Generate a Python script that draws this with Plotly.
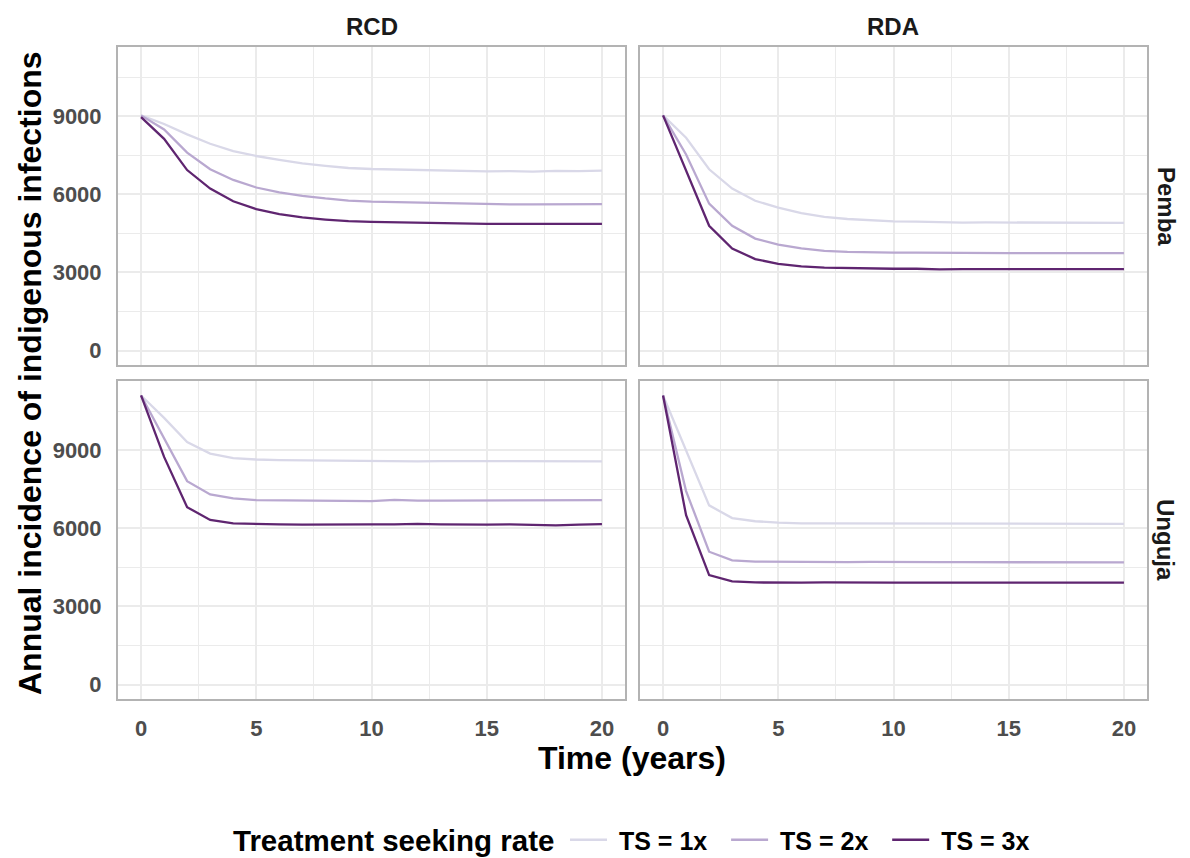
import plotly.graph_objects as go

years = list(range(0, 21))
interventions = ["RCD", "RDA"]
islands = ["Pemba", "Unguja"]
ts_labels = ["TS = 1x", "TS = 2x", "TS = 3x"]
ts_colors = ["#d9d8e8", "#b9a8d0", "#5f2570"]
legend_title = "Treatment seeking rate"

# RCD / Pemba
rcd_pemba_ts1 = [9030, 8700, 8300, 7940, 7660, 7470, 7320, 7190, 7090, 7010, 6970, 6950, 6920, 6910, 6890, 6880, 6890, 6870, 6900, 6890, 6910]
rcd_pemba_ts2 = [9030, 8490, 7600, 6960, 6550, 6260, 6070, 5940, 5840, 5760, 5720, 5700, 5670, 5650, 5630, 5620, 5610, 5610, 5610, 5620, 5620]
rcd_pemba_ts3 = [8960, 8130, 6930, 6220, 5730, 5430, 5240, 5110, 5030, 4970, 4940, 4920, 4900, 4890, 4880, 4860, 4860, 4870, 4860, 4860, 4860]
# RDA / Pemba
rda_pemba_ts1 = [9030, 8170, 6960, 6220, 5750, 5490, 5280, 5130, 5050, 5000, 4960, 4950, 4920, 4910, 4920, 4920, 4920, 4920, 4910, 4910, 4900]
rda_pemba_ts2 = [9030, 7530, 5640, 4790, 4300, 4070, 3920, 3830, 3790, 3770, 3760, 3760, 3750, 3750, 3740, 3740, 3740, 3740, 3740, 3750, 3740]
rda_pemba_ts3 = [9030, 6890, 4790, 3920, 3510, 3330, 3230, 3180, 3160, 3150, 3140, 3140, 3120, 3130, 3130, 3130, 3140, 3130, 3130, 3140, 3130]
# RCD / Unguja
rcd_unguja_ts1 = [11100, 10240, 9310, 8870, 8690, 8640, 8620, 8610, 8600, 8600, 8600, 8590, 8570, 8580, 8580, 8580, 8580, 8580, 8580, 8570, 8570]
rcd_unguja_ts2 = [11100, 9470, 7810, 7300, 7150, 7080, 7070, 7060, 7060, 7060, 7040, 7090, 7060, 7060, 7060, 7070, 7070, 7060, 7060, 7070, 7080]
rcd_unguja_ts3 = [11100, 8740, 6810, 6320, 6190, 6160, 6150, 6140, 6150, 6140, 6150, 6150, 6170, 6150, 6140, 6140, 6150, 6130, 6110, 6140, 6160]
# RDA / Unguja
rda_unguja_ts1 = [11100, 8960, 6880, 6390, 6270, 6220, 6190, 6190, 6190, 6180, 6170, 6170, 6180, 6180, 6180, 6170, 6170, 6170, 6170, 6170, 6170]
rda_unguja_ts2 = [11100, 7430, 5100, 4770, 4720, 4710, 4700, 4700, 4700, 4710, 4700, 4700, 4700, 4700, 4700, 4690, 4700, 4700, 4700, 4690, 4690]
rda_unguja_ts3 = [11100, 6500, 4200, 3960, 3920, 3910, 3910, 3920, 3910, 3910, 3910, 3910, 3920, 3910, 3910, 3910, 3910, 3910, 3920, 3910, 3910]

x_ticks = [0, 5, 10, 15, 20]
y_ticks = [0, 3000, 6000, 9000]

panels = {
    ("Pemba", "RCD"): [rcd_pemba_ts1, rcd_pemba_ts2, rcd_pemba_ts3],
    ("Pemba", "RDA"): [rda_pemba_ts1, rda_pemba_ts2, rda_pemba_ts3],
    ("Unguja", "RCD"): [rcd_unguja_ts1, rcd_unguja_ts2, rcd_unguja_ts3],
    ("Unguja", "RDA"): [rda_unguja_ts1, rda_unguja_ts2, rda_unguja_ts3],
}

OFF = 8  # default page body margin
W, H = 1190 - 2 * OFF, 858 - OFF
FONT = "Liberation Sans, Arial, sans-serif"


def fx(px):
    return (px - OFF) / W


def fy(py):
    return 1 - (py - OFF) / H


xdom = {"RCD": [fx(118), fx(625)], "RDA": [fx(640), fx(1147)]}
ydom = {"Pemba": [fy(365), fy(47)], "Unguja": [fy(699), fy(381)]}

fig = go.Figure()
layout = {}
idx = 0
ymax = max(max(v) for s in panels.values() for v in s)
yrange = [-0.05 * ymax, 1.05 * ymax]
NB = "\u00a0"
for r, isl in enumerate(islands):
    for c, itv in enumerate(interventions):
        idx += 1
        xa = "x" if idx == 1 else f"x{idx}"
        ya = "y" if idx == 1 else f"y{idx}"
        for k, series in enumerate(panels[(isl, itv)]):
            fig.add_trace(go.Scatter(
                x=years, y=series, mode="lines", xaxis=xa, yaxis=ya,
                line=dict(color=ts_colors[k], width=2.3),
                name=NB + ts_labels[k] + NB + NB, legendgroup=ts_labels[k],
                showlegend=(idx == 1),
            ))
        common = dict(
            showline=True, mirror=True, linecolor="#b3b3b3", linewidth=2,
            showgrid=True, gridcolor="#ebebeb", gridwidth=1.8, zeroline=False,
            ticks="outside", tickcolor="rgba(0,0,0,0)",
            tickfont=dict(family=FONT, size=22, color="#4d4d4d", weight="bold"),
        )
        layout["xaxis" if idx == 1 else f"xaxis{idx}"] = dict(
            common, domain=xdom[itv], anchor=ya, range=[-1, 21],
            tickvals=x_ticks, ticklen=9,
            showticklabels=(r == 1),
            minor=dict(tickvals=[2.5, 7.5, 12.5, 17.5], showgrid=True, gridcolor="#ebebeb", gridwidth=1, ticks=""),
        )
        layout["yaxis" if idx == 1 else f"yaxis{idx}"] = dict(
            common, domain=ydom[isl], anchor=xa, range=yrange,
            tickvals=y_ticks, ticklen=10,
            showticklabels=(c == 0),
            minor=dict(tickvals=[1500, 4500, 7500, 10500], showgrid=True, gridcolor="#ebebeb", gridwidth=1, ticks=""),
        )

annotations = []
for itv in interventions:
    annotations.append(dict(
        text=itv, x=(xdom[itv][0] + xdom[itv][1]) / 2, y=fy(27),
        xref="paper", yref="paper", showarrow=False, xanchor="center", yanchor="middle",
        font=dict(family=FONT, size=24, color="#1a1a1a", weight="bold"),
    ))
for isl in islands:
    annotations.append(dict(
        text=isl, x=fx(1166), y=(ydom[isl][0] + ydom[isl][1]) / 2, textangle=90,
        xref="paper", yref="paper", showarrow=False, xanchor="center", yanchor="middle",
        font=dict(family=FONT, size=24, color="#1a1a1a", weight="bold"),
    ))
annotations.append(dict(
    text="Annual incidence of indigenous infections", x=fx(30), y=fy(373), textangle=-90,
    xref="paper", yref="paper", showarrow=False, xanchor="center", yanchor="middle",
    font=dict(family=FONT, size=32, color="black", weight="bold"),
))
annotations.append(dict(
    text="Time (years)", x=fx(632), y=fy(758),
    xref="paper", yref="paper", showarrow=False, xanchor="center", yanchor="middle",
    font=dict(family=FONT, size=32, color="black", weight="bold"),
))
annotations.append(dict(
    text=legend_title, x=fx(231), y=fy(840),
    xref="paper", yref="paper", showarrow=False, xanchor="left", yanchor="middle",
    font=dict(family=FONT, size=29.5, color="black", weight="bold"),
))

fig.update_layout(
    **layout,
    annotations=annotations,
    width=W, height=H,
    margin=dict(l=0, r=0, t=0, b=0, autoexpand=False),
    paper_bgcolor="white", plot_bgcolor="white",
    font=dict(family=FONT),
    legend=dict(
        orientation="h", x=fx(565), xanchor="left", y=fy(840), yanchor="middle",
        font=dict(family=FONT, size=25, color="black", weight="bold"),
        itemwidth=37,
    ),
)

fig.write_html("out.html")
